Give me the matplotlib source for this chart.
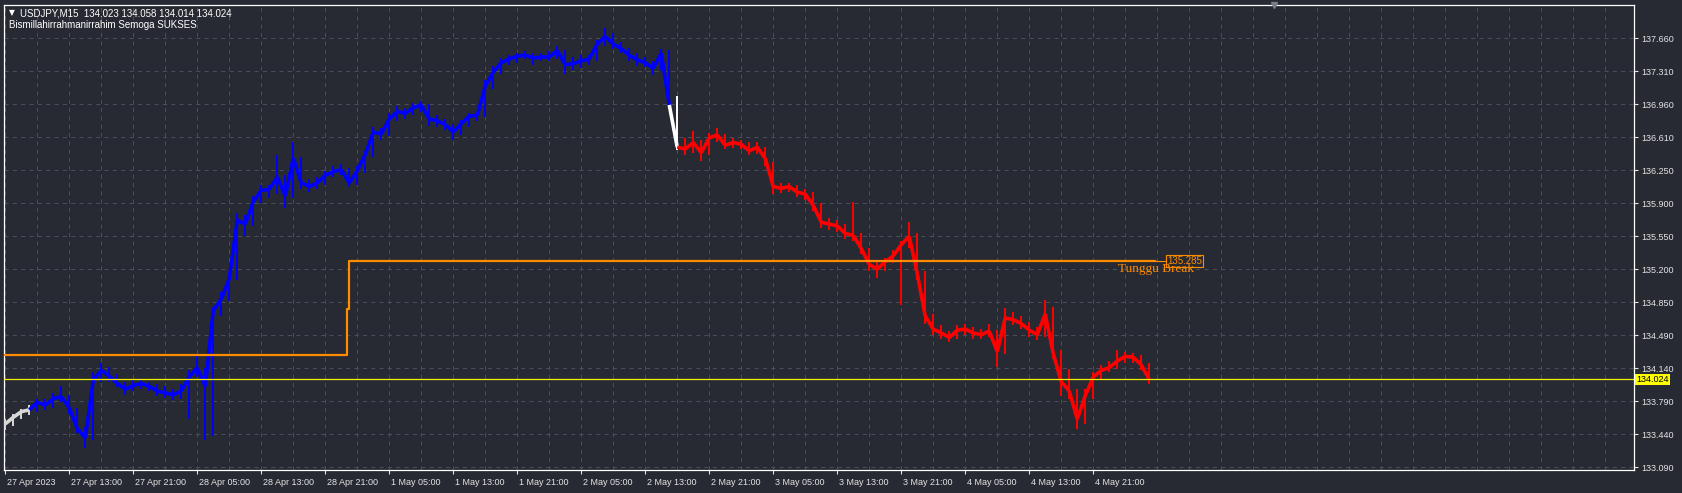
import numpy as np
import matplotlib
matplotlib.use("Agg")
import matplotlib.pyplot as plt
import matplotlib.transforms as mtrans
from matplotlib.collections import LineCollection

# USDJPY, hourly readings of the M15 chart, starting 27 Apr 2023 05:00
close = [
    133.55, 133.62, 133.68, 133.70, 133.78, 133.75, 133.82, 133.84, 133.72, 133.50,
    133.40, 134.02, 134.12, 134.06, 133.98, 133.92, 133.96, 133.98, 133.95, 133.90,
    133.88, 133.86, 133.90, 134.05, 134.15, 133.95, 134.76, 134.88, 135.10, 135.72,
    135.68, 135.92, 136.04, 136.05, 136.18, 135.98, 136.38, 136.12, 136.08, 136.12,
    136.20, 136.24, 136.26, 136.12, 136.25, 136.42, 136.66, 136.64, 136.80, 136.88,
    136.86, 136.92, 136.95, 136.80, 136.78, 136.74, 136.66, 136.75, 136.83, 136.84,
    137.15, 137.30, 137.40, 137.44, 137.47, 137.48, 137.45, 137.46, 137.46, 137.53,
    137.38, 137.39, 137.42, 137.44, 137.60, 137.68, 137.60, 137.55, 137.48, 137.43,
    137.40, 137.34, 137.50, 136.95, 136.50, 136.48, 136.55, 136.44, 136.60, 136.63,
    136.52, 136.55, 136.53, 136.46, 136.50, 136.38, 136.08, 136.06, 136.08, 136.02,
    136.00, 135.88, 135.70, 135.68, 135.66, 135.58, 135.56, 135.42, 135.25, 135.20,
    135.28, 135.34, 135.46, 135.55, 135.15, 134.70, 134.56, 134.52, 134.47, 134.55,
    134.56, 134.52, 134.50, 134.54, 134.32, 134.68, 134.66, 134.62, 134.55, 134.50,
    134.72, 134.30, 134.00, 133.90, 133.60, 133.85, 134.05, 134.12, 134.15, 134.22,
    134.27, 134.26, 134.18, 134.024,
]
high = [
    133.60, 133.66, 133.71, 133.75, 133.82, 133.82, 133.88, 133.95, 133.86, 133.72,
    133.52, 134.10, 134.20, 134.16, 134.08, 134.00, 134.02, 134.03, 134.00, 133.98,
    133.95, 133.92, 133.98, 134.12, 134.30, 134.15, 134.80, 134.96, 135.16, 135.80,
    135.78, 135.98, 136.10, 136.10, 136.42, 136.20, 136.56, 136.40, 136.16, 136.18,
    136.25, 136.30, 136.32, 136.28, 136.30, 136.46, 136.72, 136.70, 136.86, 136.94,
    136.92, 136.97, 136.99, 136.96, 136.84, 136.80, 136.75, 136.79, 136.86, 136.88,
    137.22, 137.36, 137.45, 137.48, 137.50, 137.52, 137.50, 137.50, 137.52, 137.58,
    137.54, 137.46, 137.48, 137.48, 137.64, 137.77, 137.72, 137.62, 137.56, 137.50,
    137.46, 137.42, 137.55, 137.54, 137.05, 136.60, 136.67, 136.58, 136.65, 136.70,
    136.64, 136.60, 136.58, 136.55, 136.56, 136.50, 136.34, 136.12, 136.12, 136.10,
    136.05, 136.02, 135.90, 135.74, 135.72, 135.68, 135.92, 135.58, 135.42, 135.28,
    135.32, 135.40, 135.50, 135.70, 135.58, 135.18, 134.72, 134.60, 134.54, 134.60,
    134.62, 134.58, 134.56, 134.62, 134.55, 134.78, 134.74, 134.70, 134.64, 134.58,
    134.87, 134.80, 134.34, 134.14, 133.92, 133.92, 134.10, 134.18, 134.22, 134.34,
    134.32, 134.31, 134.28, 134.20,
]
low = [
    133.49, 133.53, 133.60, 133.65, 133.68, 133.70, 133.72, 133.78, 133.66, 133.45,
    133.29, 133.38, 134.00, 134.00, 133.94, 133.86, 133.90, 133.92, 133.90, 133.85,
    133.83, 133.80, 133.82, 133.60, 134.05, 133.38, 133.42, 134.70, 134.86, 135.08,
    135.55, 135.66, 135.90, 135.96, 136.00, 135.85, 135.96, 136.05, 136.02, 136.05,
    136.10, 136.18, 136.20, 136.08, 136.10, 136.22, 136.40, 136.58, 136.62, 136.78,
    136.80, 136.84, 136.88, 136.73, 136.72, 136.68, 136.58, 136.63, 136.72, 136.78,
    136.82, 137.12, 137.28, 137.38, 137.40, 137.44, 137.38, 137.42, 137.42, 137.44,
    137.28, 137.32, 137.34, 137.38, 137.42, 137.58, 137.55, 137.50, 137.42, 137.36,
    137.35, 137.27, 137.32, 136.93, 136.47, 136.42, 136.44, 136.35, 136.42, 136.56,
    136.48, 136.49, 136.48, 136.42, 136.43, 136.30, 136.00, 136.01, 136.02, 135.97,
    135.94, 135.82, 135.64, 135.62, 135.60, 135.52, 135.50, 135.36, 135.18, 135.10,
    135.18, 135.26, 134.82, 135.42, 135.08, 134.62, 134.50, 134.46, 134.42, 134.45,
    134.50, 134.46, 134.45, 134.48, 134.16, 134.30, 134.60, 134.56, 134.48, 134.44,
    134.48, 134.24, 133.85, 133.82, 133.50, 133.55, 133.82, 134.02, 134.10, 134.14,
    134.20, 134.20, 134.12, 133.98,
]
# indicator colour: bar index where each colour starts
trend_start = [0, 4, 84, 85]
trend_color = ["#d8d8d8", "#0000ff", "#ffffff", "#ff0000"]

# orange level line: start hour and value of each step
level_start = [-1.0, 42.75, 43.0]
level_value = [134.28, 134.77, 135.285]
level_text = "135.285"
bid = 134.024

time_labels = [
    "27 Apr 2023", "27 Apr 13:00", "27 Apr 21:00", "28 Apr 05:00", "28 Apr 13:00",
    "28 Apr 21:00", "1 May 05:00", "1 May 13:00", "1 May 21:00", "2 May 05:00",
    "2 May 13:00", "2 May 21:00", "3 May 05:00", "3 May 13:00", "3 May 21:00",
    "4 May 05:00", "4 May 13:00", "4 May 21:00",
]
price_labels = [
    "137.660", "137.310", "136.960", "136.610", "136.250", "135.900", "135.550",
    "135.200", "134.850", "134.490", "134.140", "133.790", "133.440", "133.090",
]

BG = "#282a33"
GRID = "#4a4d5a"
FG = "#e4e4e4"
ORANGE = "#ff8c00"
plt.rcParams["font.family"] = ["Liberation Sans", "DejaVu Sans"]

fig = plt.figure(figsize=(16.82, 4.93), dpi=100, facecolor=BG)
ax = fig.add_axes([4 / 1682, 23 / 493, 1630 / 1682, 465.3 / 493], facecolor=BG)

n = len(close)
hours = np.arange(n)
colors = []
for i in range(n):
    k = max(j for j in range(len(trend_start)) if trend_start[j] <= i)
    colors.append(trend_color[k])

# price: high-low ticks plus the close path (segment takes colour of the bar it ends on)
ax.vlines(hours, low, high, colors=colors, lw=1.4, zorder=3)
pts = np.column_stack([hours, close])
segs = np.stack([pts[:-1], pts[1:]], axis=1)
ax.add_collection(LineCollection(segs, colors=colors[1:], linewidths=2.6,
                                 capstyle="butt", joinstyle="miter", zorder=3))

# levels
lx = level_start + [n - 0.3]
ly = level_value + [level_value[-1]]
ax.plot(lx, ly, drawstyle="steps-post", color=ORANGE, lw=1.6, zorder=4)
ax.plot([n - 0.3, n + 1.2], [level_value[-1]] * 2, color=ORANGE, lw=0.8, zorder=4)
ax.text(n + 1.25, level_value[-1], level_text, color=ORANGE, fontsize=7,
        va="center", ha="left", zorder=5,
        bbox=dict(boxstyle="square,pad=0.12", fc=BG, ec=ORANGE, lw=0.8))
ax.annotate("Tunggu Break", xy=(n - 4.9, level_value[-1]), xytext=(0, -1.5),
            textcoords="offset points", color=ORANGE, fontsize=9.5,
            family="Liberation Serif", va="top", ha="left", zorder=5)

# bid line
ax.axhline(bid, color="#f0f000", lw=0.9, zorder=4)
tr = mtrans.blended_transform_factory(ax.transAxes, ax.transData)
ax.text(1.0015, bid, f"{bid:.3f}", transform=tr, color="black", fontsize=6.5,
        va="center", ha="left", clip_on=False, zorder=6,
        bbox=dict(boxstyle="square,pad=0.12", fc="#ffff00", ec="#ffff00", lw=0))

# axes
x0, x1 = -0.1625, 203.6
ax.set_xlim(x0, x1)
ticks_y = np.linspace(137.66, 133.09, len(price_labels))
step_y = ticks_y[0] - ticks_y[1]
ax.set_ylim(ticks_y[-1] - 0.09 * step_y, ticks_y[0] + 1.02 * step_y)

ax.yaxis.tick_right()
ax.set_yticks(ticks_y)
ax.set_yticklabels(price_labels)
ax.set_xticks(np.arange(len(time_labels)) * 8)
ax.set_xticklabels(time_labels, ha="left")
ax.tick_params(axis="both", colors=FG, labelcolor=FG, labelsize=6.5,
               length=3, width=0.8, pad=2)
ax.tick_params(axis="x", pad=3)

for y in ticks_y:
    ax.axhline(y, color=GRID, lw=0.75, dashes=(4, 4), zorder=1)
for x in np.arange(0, x1, 4):
    ax.axvline(x, color=GRID, lw=0.75, dashes=(4, 4), zorder=1)

for s in ax.spines.values():
    s.set_color("white")
    s.set_linewidth(0.9)

# chart shift marker on the top edge
ax.plot([158.6], [1.0], marker="v", ms=4, color="#7a7c86",
        transform=mtrans.blended_transform_factory(ax.transData, ax.transAxes),
        clip_on=False, zorder=6)

# MT4 puts the time label just right of its tick
offset = mtrans.ScaledTranslation(2 / 100, 0, fig.dpi_scale_trans)
for lab in ax.get_xticklabels():
    lab.set_transform(lab.get_transform() + offset)

# header
fig.text(9 / 1682, 1 - 13 / 493, "\u25bc", color="white", fontsize=5.5,
         va="center", ha="left", family="DejaVu Sans")
fig.text(20 / 1682, 1 - 13 / 493,
         "USDJPY,M15  134.023 134.058 134.014 134.024",
         color="white", fontsize=7, va="center", ha="left")
fig.text(9 / 1682, 1 - 25.5 / 493, "Bismillahirrahmanirrahim Semoga SUKSES",
         color="white", fontsize=7, va="center", ha="left")

fig.savefig("out.png", dpi=100, facecolor=BG)
